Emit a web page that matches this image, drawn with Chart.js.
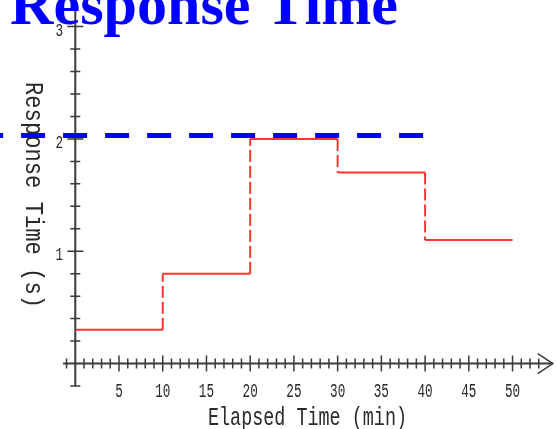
<!DOCTYPE html>
<html>
<head>
<meta charset="utf-8">
<title>Response Time</title>
<script src="https://cdn.jsdelivr.net/npm/chart.js@4.4.0/dist/chart.umd.min.js"></script>
<style>
    html, body { margin: 0; padding: 0; background: #fff; overflow: hidden; }
    canvas { display: block; }
</style>
</head>
<body>
<canvas id="responseChart" width="556" height="429"></canvas>
<script>
// --- data ---
// step boundaries (min) and the response time held between them (s)
const stepTimes = [0, 10, 20, 30, 40, 50];
const stepLevels = [0.3, 0.8, 2.0, 1.7, 1.1];

// dashed threshold line
const limitRange = [-11, 40];
const limitValue = 2.03;

const xTickLabels = [5, 10, 15, 20, 25, 30, 35, 40, 45, 50];
const yTickLabels = [1, 2, 3];

const titleText = 'Total Response Time';
const xTitle = 'Elapsed Time (min)';
const yTitle = 'Response Time (s)';

// staircase: a horizontal run per level, the jumps come out as same-x pairs
const stepPoints = [];
stepLevels.forEach((lvl, i) => {
    stepPoints.push({ x: stepTimes[i], y: lvl });
    stepPoints.push({ x: stepTimes[i + 1], y: lvl });
});

const limitPoints = limitRange.map(x => ({ x: x, y: limitValue }));

// --- helpers ---
const monoFont = '"Liberation Mono", "DejaVu Sans Mono", monospace';
const axisColor = '#3a3a3a';
const jumpDash = [12, 4];

// narrow, tall text: width is the full run, capHeight the glyph height
function drawTallText(ctx, text, x, y, width, capHeight, angle, refGlyph) {
    ctx.save();
    ctx.font = '20px ' + monoFont;
    const w = ctx.measureText(text).width;
    const cap = ctx.measureText(refGlyph).actualBoundingBoxAscent;
    ctx.translate(x, y);
    ctx.rotate(angle);
    ctx.scale(width / w, capHeight / cap);
    ctx.textAlign = 'center';
    ctx.textBaseline = 'alphabetic';
    ctx.fillText(text, 0, cap / 2);
    ctx.restore();
}

const axesPlugin = {
    id: 'crossAxes',
    beforeDatasetsDraw(chart) {
        const ctx = chart.ctx;
        const xs = chart.scales.x;
        const ys = chart.scales.y;
        const x0 = xs.getPixelForValue(0);
        const y0 = ys.getPixelForValue(0);

        ctx.save();
        ctx.strokeStyle = axisColor;
        ctx.fillStyle = '#2a2a2a';

        // axis lines
        ctx.lineWidth = 2;
        ctx.beginPath();
        ctx.moveTo(xs.getPixelForValue(-1.4), y0);
        ctx.lineTo(xs.getPixelForValue(54.6), y0);
        ctx.moveTo(x0, ys.getPixelForValue(-0.2));
        ctx.lineTo(x0, ys.getPixelForValue(3.4));
        ctx.stroke();

        // open arrow at the end of the time axis
        const tip = xs.getPixelForValue(54.6);
        ctx.lineWidth = 1.5;
        ctx.beginPath();
        ctx.moveTo(tip - 15, y0 - 10);
        ctx.lineTo(tip, y0);
        ctx.lineTo(tip - 15, y0 + 10);
        ctx.stroke();

        // tick marks cross the axis on both sides
        ctx.lineWidth = 1.5;
        ctx.beginPath();
        xs.ticks.forEach(t => {
            const v = t.value;
            if (v < -1 || v > 53 || v === 0) return;
            const px = xs.getPixelForValue(v);
            const len = v % 5 === 0 ? 8 : 5;
            ctx.moveTo(px, y0 - len);
            ctx.lineTo(px, y0 + len);
        });
        ys.ticks.forEach(t => {
            const v = t.value;
            if (v < -0.21 || v > 3.21 || Math.abs(v) < 1e-9) return;
            const py = ys.getPixelForValue(v);
            const len = Math.abs(v - Math.round(v)) < 1e-9 ? 8 : 5;
            ctx.moveTo(x0 - len, py);
            ctx.lineTo(x0 + len, py);
        });
        ctx.stroke();

        // tick labels
        xTickLabels.forEach(v => {
            const s = String(v);
            drawTallText(ctx, s, xs.getPixelForValue(v), y0 + 27, 7.6 * s.length, 13, 0, '0');
        });
        yTickLabels.forEach(v => {
            const s = String(v);
            drawTallText(ctx, s, x0 - 16, ys.getPixelForValue(v) + 3, 7.6 * s.length, 12, 0, '0');
        });

        // axis titles
        drawTallText(ctx, xTitle, 307.5, 416, 199, 17, 0, 'E');
        drawTallText(ctx, yTitle, 34, 195, 226, 17, Math.PI / 2, 'E');

        // title, partly running off the canvas
        ctx.font = 'bold 60px "Liberation Serif", "Times New Roman", serif';
        const base = ctx.measureText('Response Time').width;
        const size = 60 * 388 / base;
        ctx.font = 'bold ' + size.toFixed(2) + 'px "Liberation Serif", "Times New Roman", serif';
        ctx.fillStyle = '#0000ff';
        ctx.textAlign = 'right';
        ctx.textBaseline = 'alphabetic';
        ctx.fillText(titleText, 398, 24);
        ctx.restore();
    }
};

const ctx_response = document.getElementById('responseChart');
new Chart(ctx_response, {
    type: 'line',
    data: {
        datasets: [{
            label: 'Response time',
            data: stepPoints,
            borderColor: 'rgba(255, 30, 30, 0.9)',
            borderWidth: 2,
            // a dash on the dataset keeps Chart.js off its fast path,
            // which would merge the same-x jump points
            borderDash: jumpDash,
            pointRadius: 0,
            fill: false,
            segment: {
                borderDash: c => c.p0.parsed.x === c.p1.parsed.x ? jumpDash : []
            }
        }, {
            label: 'Limit',
            data: limitPoints,
            borderColor: '#0000ff',
            borderWidth: 5,
            borderDash: [24, 18],
            pointRadius: 0,
            fill: false
        }]
    },
    options: {
        responsive: false,
        animation: false,
        devicePixelRatio: 1,
        layout: { padding: 0 },
        plugins: { legend: { display: false }, tooltip: { enabled: false }, title: { display: false } },
        scales: {
            x: {
                type: 'linear',
                position: { y: 0 },
                min: -8.61,
                max: 54.97,
                ticks: { display: false, stepSize: 1 },
                grid: { display: false },
                border: { display: false }
            },
            y: {
                type: 'linear',
                position: { x: 0 },
                min: -0.583,
                max: 3.237,
                ticks: { display: false, stepSize: 0.2 },
                grid: { display: false },
                border: { display: false }
            }
        }
    },
    plugins: [axesPlugin]
});
</script>
</body>
</html>
